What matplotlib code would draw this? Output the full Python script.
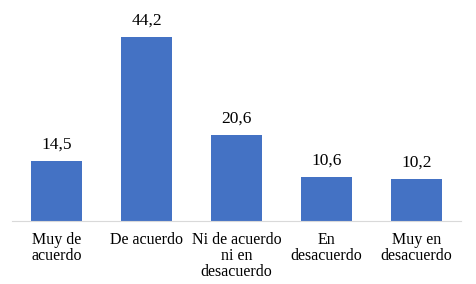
import matplotlib
matplotlib.use("Agg")
import matplotlib.pyplot as plt

categorias = ["Muy de\nacuerdo", "De acuerdo", "Ni de acuerdo\nni en\ndesacuerdo", "En\ndesacuerdo", "Muy en\ndesacuerdo"]
valores = [14.5, 44.2, 20.6, 10.6, 10.2]

plt.rcParams['font.family'] = ['Liberation Serif', 'DejaVu Serif']

fig = plt.figure(figsize=(4.76, 2.84), dpi=100)
ax = fig.add_axes([0.0242, 0.2218, 0.9453, 0.7377])

x = range(len(categorias))
bars = ax.bar(x, valores, width=0.57, color='#4472C4')

# etiquetas de valor con coma decimal
for b, v in zip(bars, valores):
    ax.annotate(f"{v:.1f}".replace('.', ','), (b.get_x() + b.get_width() / 2, v),
                xytext=(0, 6), textcoords='offset points', ha='center', va='bottom',
                fontsize=12.5)

ax.set_xlim(-0.5, 4.5)
ax.set_ylim(0, 50.4)
ax.set_xticks(list(x))
ax.set_xticklabels(categorias, fontsize=11.5, linespacing=0.98, va='top')
ax.tick_params(axis='x', length=0, pad=8)
ax.set_yticks([])
for s in ['top', 'right', 'left']:
    ax.spines[s].set_visible(False)
ax.spines['bottom'].set_color('#d9d9d9')

fig.savefig("out.png", dpi=100)
